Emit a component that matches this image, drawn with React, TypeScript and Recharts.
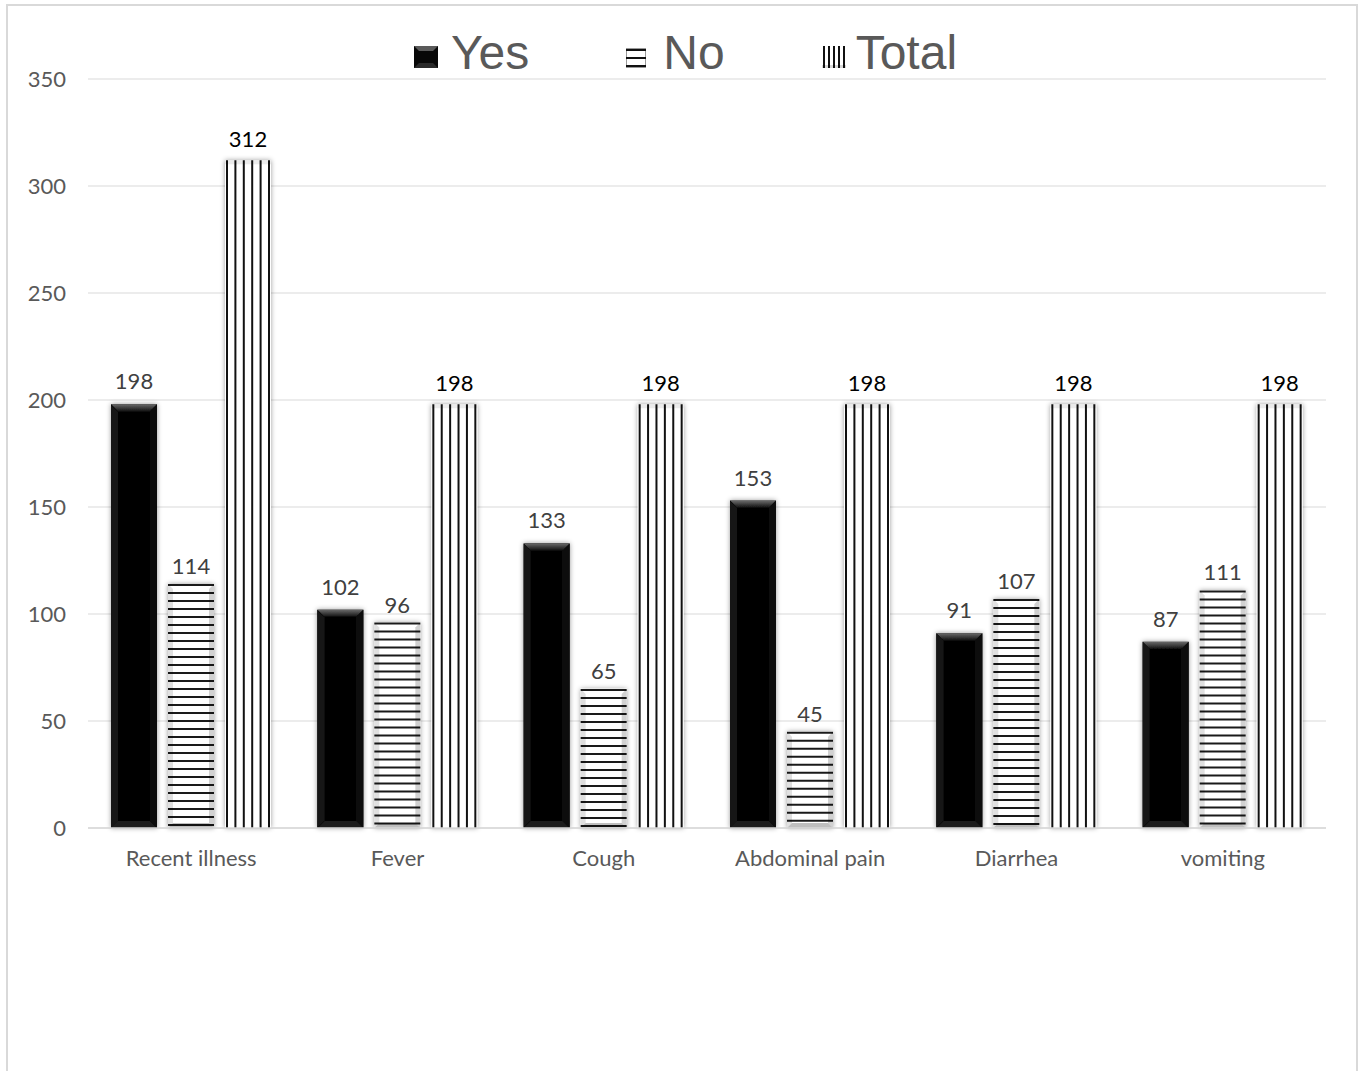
import React from 'react';
import { BarChart, Bar, XAxis, YAxis, CartesianGrid, Legend, LabelList } from 'recharts';

const categories = ['Recent illness', 'Fever', 'Cough', 'Abdominal pain', 'Diarrhea', 'vomiting'];
const yesValues = [198, 102, 133, 153, 91, 87];
const noValues = [114, 96, 65, 45, 107, 111];
const totalValues = [312, 198, 198, 198, 198, 198];
const yTicks = [0, 50, 100, 150, 200, 250, 300, 350];
const seriesNames = ['Yes', 'No', 'Total'];

const data = categories.map((c, i) => ({
  name: c,
  Yes: yesValues[i],
  No: noValues[i],
  Total: totalValues[i],
}));

const FONT = 'Lato, "Open Sans", sans-serif';

const YesShape = (props: any) => {
  const { x, y, width: w, height: h } = props;
  if (!h || h <= 0) return null;
  const b = 7;
  return (
    <g filter="url(#barShadow)">
      <rect x={x} y={y} width={w} height={h} fill="#050505" />
      <polygon points={`${x},${y} ${x + w},${y} ${x + w - b},${y + b} ${x + b},${y + b}`} fill="url(#yesTop)" />
      <polygon points={`${x},${y} ${x + b},${y + b} ${x + b},${y + h - b} ${x},${y + h}`} fill="#121212" />
      <polygon points={`${x + w},${y} ${x + w - b},${y + b} ${x + w - b},${y + h - b} ${x + w},${y + h}`} fill="#0c0c0c" />
      <polygon points={`${x},${y + h} ${x + b},${y + h - b} ${x + w - b},${y + h - b} ${x + w},${y + h}`} fill="#1a1a1a" />
    </g>
  );
};

const NoShape = (props: any) => {
  const { x, y, width: w, height: h } = props;
  if (!h || h <= 0) return null;
  const lines: number[] = [];
  for (let yy = y + 1; yy <= y + h - 1; yy += 8) lines.push(yy);
  const b = 5;
  return (
    <g>
      <rect x={x} y={y} width={w} height={h} fill="#ffffff" filter="url(#barShadow)" />
      {lines.map((ly, i) => (
        <line key={i} x1={x} x2={x + w} y1={ly} y2={ly} stroke="#1a1a1a" strokeWidth={2} />
      ))}
      <polygon points={`${x},${y} ${x + b},${y + b} ${x + b},${y + h - b} ${x},${y + h}`} fill="#000" fillOpacity={0.12} />
      <polygon points={`${x + w},${y} ${x + w - b},${y + b} ${x + w - b},${y + h - b} ${x + w},${y + h}`} fill="#000" fillOpacity={0.18} />
      <polygon points={`${x},${y + h} ${x + b},${y + h - b} ${x + w - b},${y + h - b} ${x + w},${y + h}`} fill="#000" fillOpacity={0.25} />
    </g>
  );
};

const TotalShape = (props: any) => {
  const { x, y, width: w, height: h } = props;
  if (!h || h <= 0) return null;
  const n = 6;
  const xs: number[] = [];
  for (let i = 0; i < n; i++) xs.push(x + 2 + (i * (w - 4)) / (n - 1));
  return (
    <g>
      <rect x={x} y={y} width={w} height={h} fill="#ffffff" filter="url(#barShadow)" />
      {xs.map((lx, i) => (
        <line key={i} x1={lx} x2={lx} y1={y} y2={y + h} stroke="#111" strokeWidth={2} />
      ))}
      <rect x={x} y={y} width={w} height={4} fill="#000" fillOpacity={0.08} />
    </g>
  );
};

const LegendIcon = ({ name }: { name: string }) => {
  if (name === 'Yes') {
    return (
      <svg width={24} height={22} style={{ marginTop: 17, marginRight: 13 }}>
        <rect x={0} y={0} width={24} height={22} fill="#080808" />
        <polygon points="0,0 24,0 19,5 5,5" fill="#5a5a5a" />
        <polygon points="0,22 5,17 19,17 24,22" fill="#2a2a2a" />
      </svg>
    );
  }
  if (name === 'No') {
    return (
      <svg width={20} height={20} style={{ marginTop: 19, marginRight: 17 }}>
        <rect x={0.5} y={0.5} width={19} height={19} fill="#fff" stroke="#999" />
        <line x1={0} x2={20} y1={2} y2={2} stroke="#111" strokeWidth={2} />
        <line x1={0} x2={20} y1={10} y2={10} stroke="#111" strokeWidth={2} />
        <line x1={0} x2={20} y1={18} y2={18} stroke="#111" strokeWidth={2} />
      </svg>
    );
  }
  return (
    <svg width={24} height={22} style={{ marginTop: 17, marginRight: 10 }}>
      <rect x={0} y={0} width={24} height={22} fill="#fff" />
      {[2, 7, 12, 17, 22].map((lx) => (
        <line key={lx} x1={lx} x2={lx} y1={0} y2={22} stroke="#111" strokeWidth={2} />
      ))}
      <rect x={0} y={19} width={24} height={3} fill="#000" fillOpacity={0.15} />
    </svg>
  );
};

const renderLegend = () => {
  const names = seriesNames;
  return (
    <div style={{ display: 'flex', paddingLeft: 414 }}>
      {names.map((n: string, i: number) => (
        <div key={n} style={{ display: 'flex', alignItems: 'flex-start', marginRight: i < names.length - 1 ? 97 : 0 }}>
          <LegendIcon name={n} />
          <span style={{ fontFamily: '"Liberation Sans", Arial, sans-serif', fontSize: 48, lineHeight: '48px', color: '#595959' }}>{n}</span>
        </div>
      ))}
    </div>
  );
};

export default function App() {
  return (
    <div style={{ position: 'absolute', left: 0, top: 0, width: 1364, height: 1071, background: '#fff', overflow: 'hidden' }}>
      <svg width={0} height={0} style={{ position: 'absolute' }}>
        <defs>
          <filter id="barShadow" x="-30%" y="-10%" width="160%" height="120%">
            <feDropShadow dx={0} dy={0} stdDeviation={2.5} floodColor="#000" floodOpacity={0.4} />
          </filter>
          <linearGradient id="yesTop" x1="0" y1="0" x2="0" y2="1">
            <stop offset="0%" stopColor="#6a6a6a" />
            <stop offset="100%" stopColor="#121212" />
          </linearGradient>
        </defs>
      </svg>
      <div style={{ position: 'absolute', left: 6, top: 4, width: 1352, height: 1100, border: '2px solid #d9d9d9', boxSizing: 'border-box' }} />
      <div style={{ position: 'absolute', left: 0, top: 0 }}>
        <BarChart
          width={1364}
          height={1071}
          data={data}
          margin={{ top: 79, right: 38, bottom: 203, left: 0 }}
          barGap={11}
          barSize={46}
        >
          <CartesianGrid horizontal vertical={false} stroke="#d9d9d9" strokeWidth={1} />
          <XAxis
            dataKey="name"
            height={40}
            axisLine={{ stroke: '#d9d9d9', strokeWidth: 1.5 }}
            tickLine={false}
            tickSize={0}
            tickMargin={22}
            tick={{ fill: '#595959', fontSize: 22, fontFamily: FONT }}
            interval={0}
          />
          <YAxis
            width={88}
            domain={[0, 350]}
            ticks={yTicks}
            axisLine={false}
            tickLine={false}
            tickSize={0}
            tickMargin={22}
            tick={{ fill: '#595959', fontSize: 22, fontFamily: FONT }}
          />
          <Legend
            verticalAlign="middle"
            layout="horizontal"
            content={renderLegend}
            wrapperStyle={{ top: 29, left: 0, width: 1364, height: 48 }}
          />
          <Bar dataKey="Yes" shape={YesShape} isAnimationActive={false}>
            <LabelList dataKey="Yes" position="top" offset={15} fill="#404040" fontSize={22} fontFamily={FONT} />
          </Bar>
          <Bar dataKey="No" shape={NoShape} isAnimationActive={false}>
            <LabelList dataKey="No" position="top" offset={10} fill="#404040" fontSize={22} fontFamily={FONT} />
          </Bar>
          <Bar dataKey="Total" shape={TotalShape} isAnimationActive={false}>
            <LabelList dataKey="Total" position="top" offset={13} fill="#000000" fontSize={22} fontFamily={FONT} />
          </Bar>
        </BarChart>
      </div>
    </div>
  );
}
